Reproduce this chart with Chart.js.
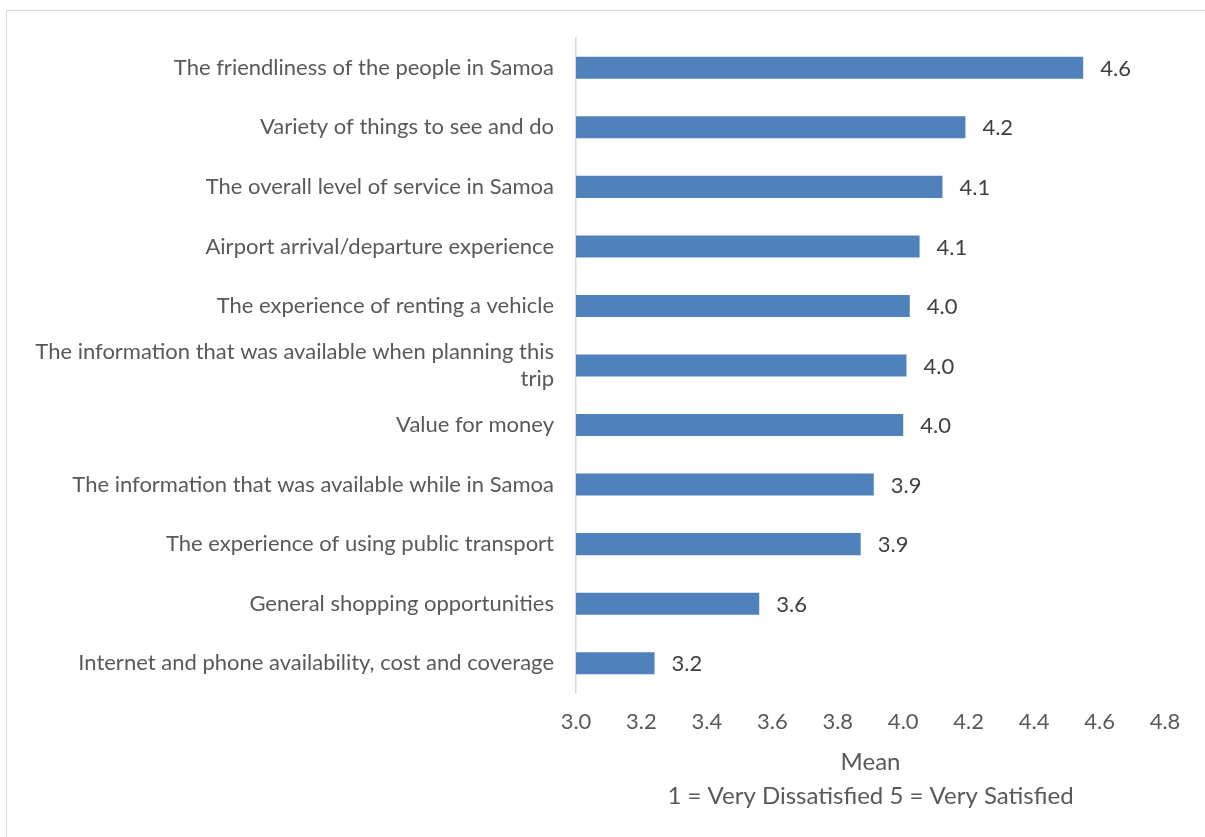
<!DOCTYPE html>
<html>
<head>
<meta charset="utf-8">
<script src="https://cdn.jsdelivr.net/npm/chart.js@4"></script>
<style>
  html, body { margin: 0; padding: 0; background: #fff; }
  #wrap { position: relative; width: 1205px; height: 837px; overflow: hidden; }
  #frame {
    position: absolute; left: 6px; top: 10px; width: 1220px; height: 840px;
    border-top: 1px solid #d9d9d9; border-left: 1.5px solid #d9d9d9; box-sizing: border-box;
  }
  canvas { position: absolute; left: 0; top: 0; }
</style>
</head>
<body>
<div id="wrap">
  <div id="frame"></div>
  <canvas id="chart" width="1205" height="837"></canvas>
</div>
<script>
// Satisfaction items, top to bottom
const categories = [
  "The friendliness of the people in Samoa",
  "Variety of things to see and do",
  "The overall level of service in Samoa",
  "Airport arrival/departure experience",
  "The experience of renting a vehicle",
  ["The information that was available when planning this", "trip"],
  "Value for money",
  "The information that was available while in Samoa",
  "The experience of using public transport",
  "General shopping opportunities",
  "Internet and phone availability, cost and coverage"
];

// Mean rating (1 = Very Dissatisfied, 5 = Very Satisfied)
const meanScores = [4.55, 4.19, 4.12, 4.05, 4.02, 4.01, 4.00, 3.91, 3.87, 3.56, 3.24];

const axisMin = 3.0;
const axisMax = 4.8;
const axisStep = 0.2;
const axisTitle = ["Mean", "1 = Very Dissatisfied 5 = Very Satisfied"];

const FONT = "Lato, 'Open Sans', sans-serif";

// One-decimal value text, rounding half up
const oneDecimal = (v) => (Math.round(v * 10 + 1e-9) / 10).toFixed(1);

// Writes each bar's value just past its end
const valueLabels = {
  id: "valueLabels",
  afterDatasetsDraw(chart) {
    const ctx = chart.ctx;
    const meta = chart.getDatasetMeta(0);
    ctx.save();
    ctx.font = "22px " + FONT;
    ctx.fillStyle = "#404040";
    ctx.textAlign = "left";
    ctx.textBaseline = "middle";
    meta.data.forEach((bar, i) => {
      ctx.fillText(oneDecimal(chart.data.datasets[0].data[i]), bar.x + 17, bar.y + 1);
    });
    ctx.restore();
  }
};

new Chart(document.getElementById("chart"), {
  type: "bar",
  data: {
    labels: categories,
    datasets: [{
      data: meanScores,
      backgroundColor: "#4f81bd",
      borderWidth: 0,
      categoryPercentage: 1.0,
      barPercentage: 0.37
    }]
  },
  options: {
    indexAxis: "y",
    responsive: false,
    animation: false,
    layout: { padding: { top: 38, right: 40, bottom: 24, left: 0 } },
    plugins: {
      legend: { display: false },
      tooltip: { enabled: false }
    },
    scales: {
      x: {
        min: axisMin,
        max: axisMax,
        grid: { display: false, drawTicks: false },
        border: { display: false },
        ticks: {
          stepSize: axisStep,
          padding: 16,
          color: "#595959",
          font: { family: FONT, size: 22 },
          callback: (v) => Number(v).toFixed(1)
        },
        title: {
          display: true,
          text: axisTitle,
          color: "#595959",
          font: { family: FONT, size: 24, lineHeight: 1.42 },
          padding: { top: 0, bottom: 0 }
        },
        afterFit: (scale) => { scale.height = 120; }
      },
      y: {
        grid: { display: false, drawTicks: false },
        border: { display: true, color: "#d9d9d9", width: 1.5 },
        ticks: {
          padding: 22,
          color: "#595959",
          font: { family: FONT, size: 22, lineHeight: 1.2 },
          autoSkip: false
        },
        afterFit: (scale) => { scale.width = 576; }
      }
    }
  },
  plugins: [valueLabels]
});
</script>
</body>
</html>
